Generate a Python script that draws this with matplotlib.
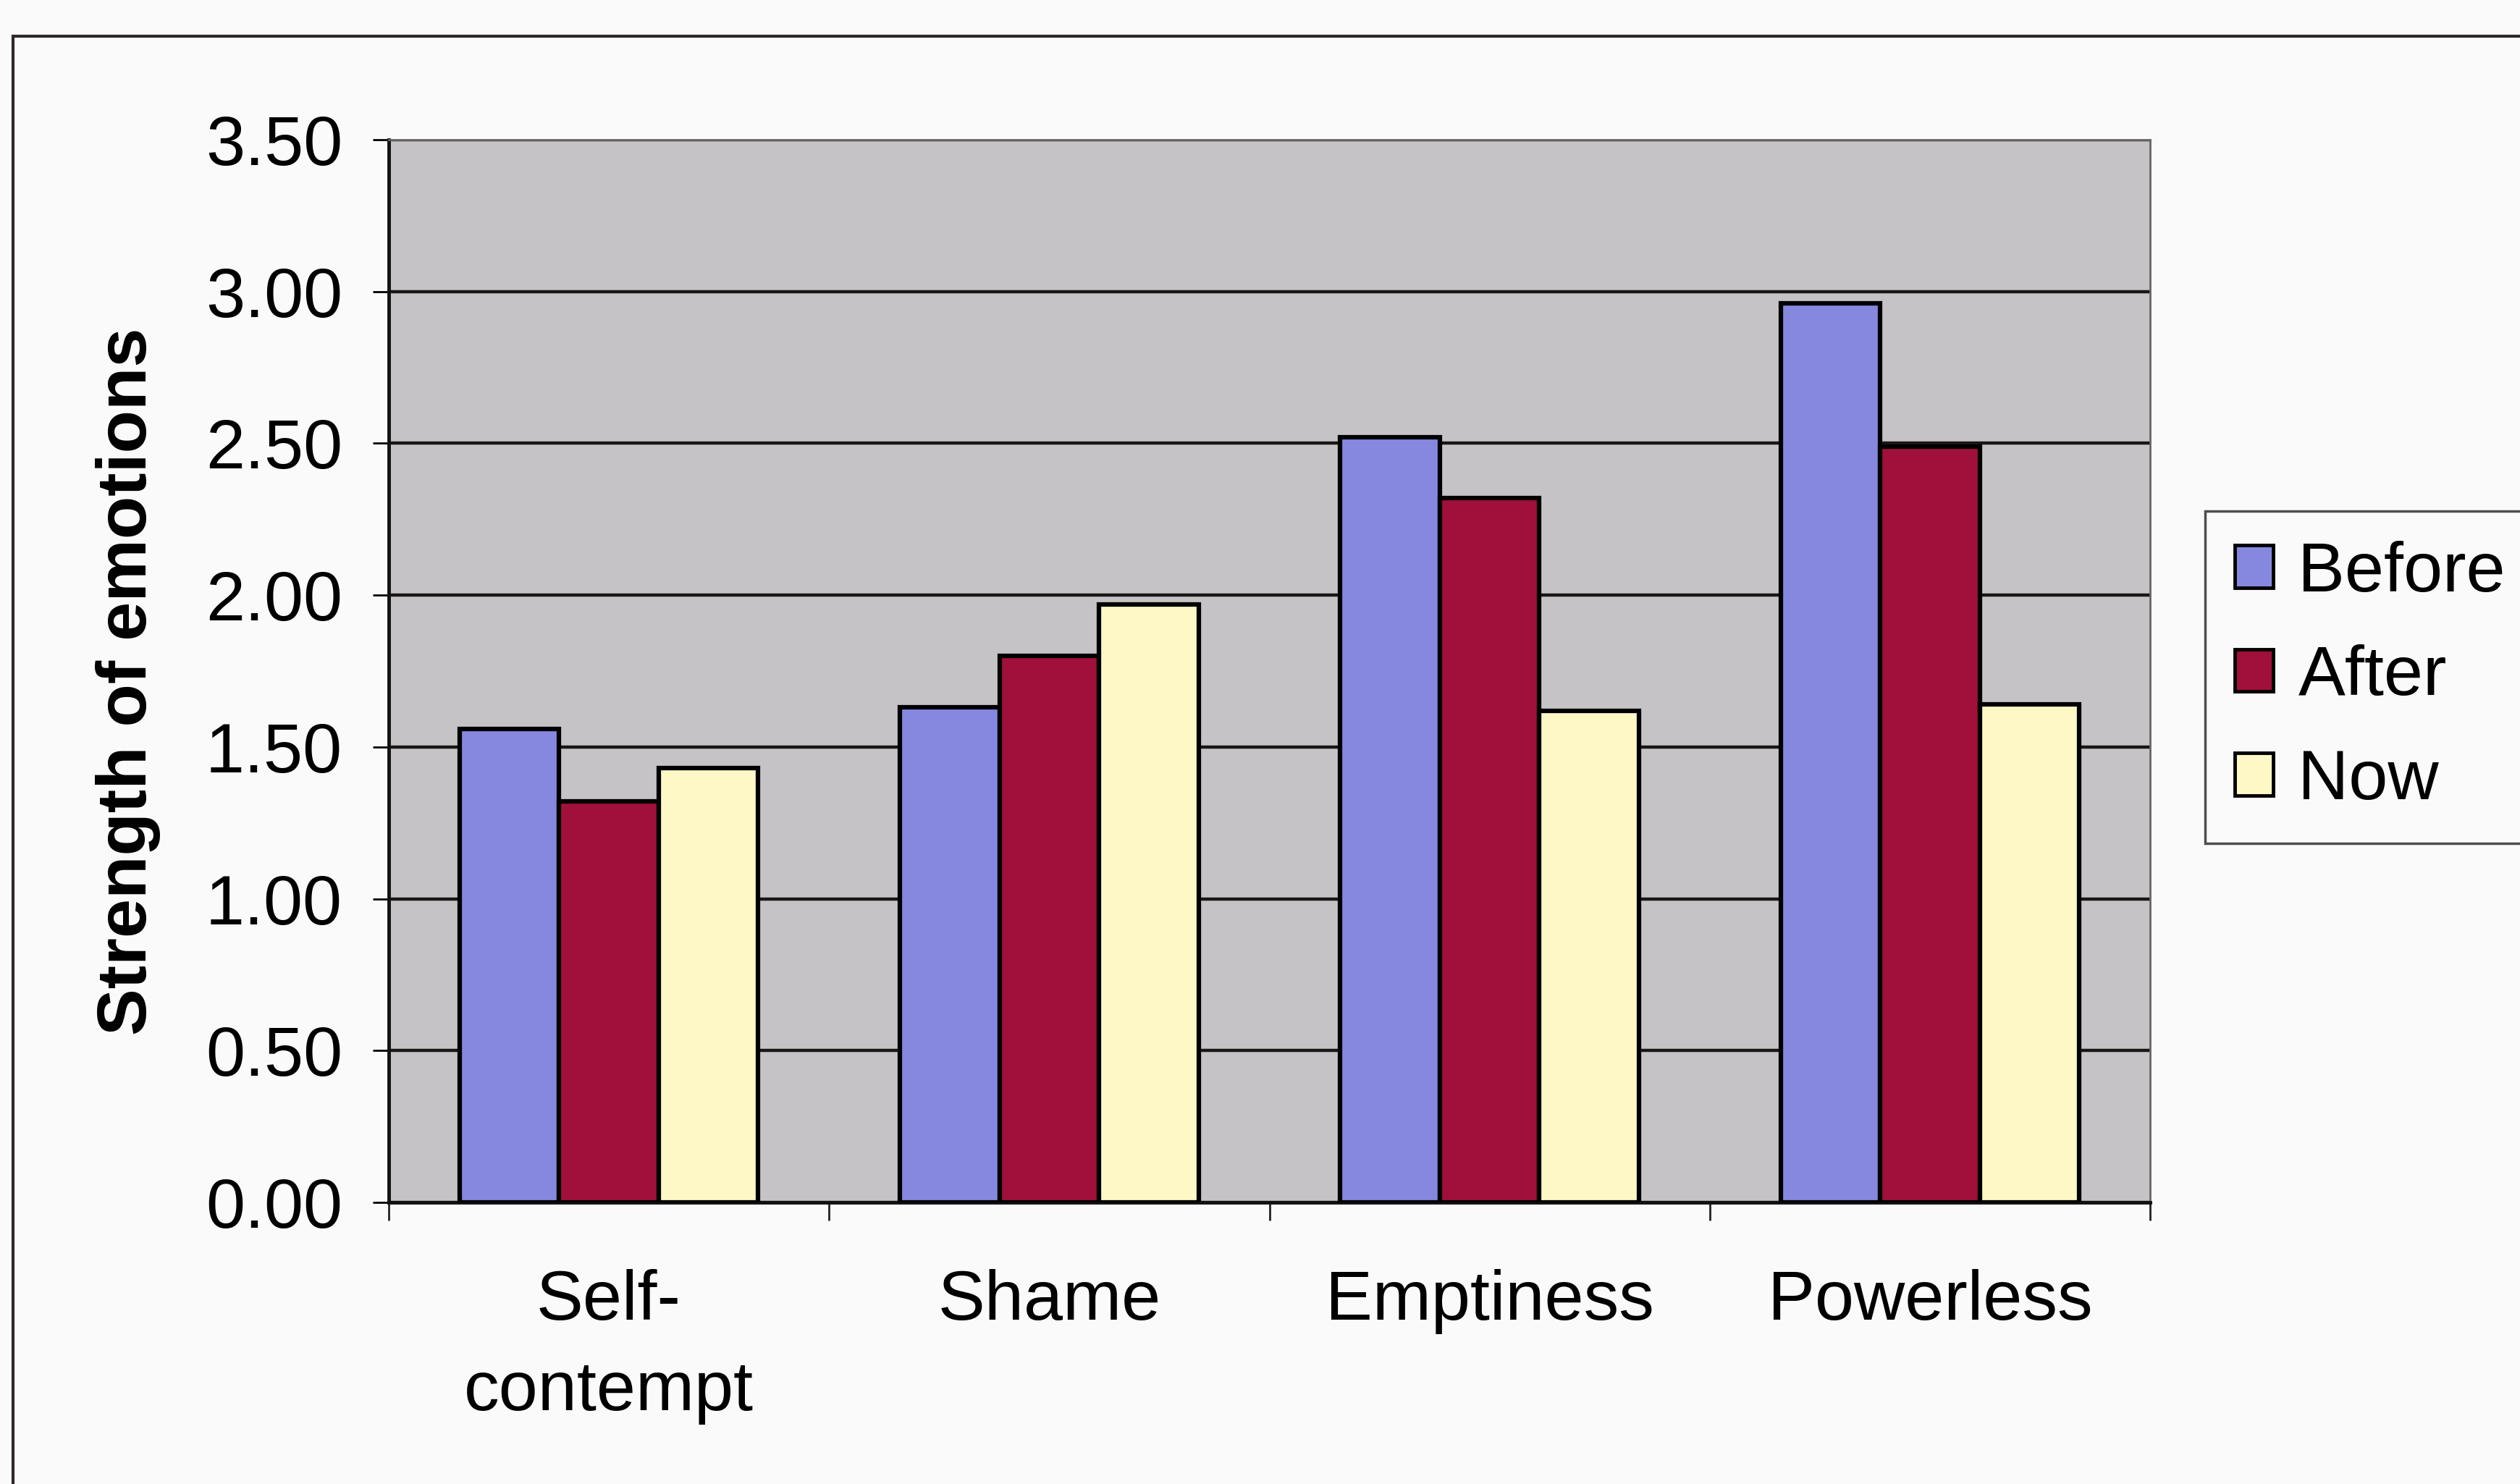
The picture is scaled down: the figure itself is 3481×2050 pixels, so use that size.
import numpy as np
import matplotlib
matplotlib.use("Agg")
import matplotlib.pyplot as plt
from matplotlib.patches import Rectangle
from matplotlib.ticker import FormatStrFormatter, FixedLocator

categories = ["Self-\ncontempt", "Shame", "Emptiness", "Powerless"]
series = ["Before", "After", "Now"]
before = [1.56, 1.63, 2.52, 2.96]
after = [1.32, 1.80, 2.32, 2.49]
now = [1.43, 1.97, 1.62, 1.64]
colors = ["#8687df", "#a0103a", "#fdf8c6"]

plt.rcParams["font.family"] = ["Liberation Sans", "DejaVu Sans"]
fs = 70

fig = plt.figure(figsize=(34.81, 20.5), dpi=100, facecolor="#fbfafb")

# outer chart-area border
fig.patches.append(Rectangle((18 / 3481, -0.1), 1.2, 1 - 50 / 2050 + 0.1,
                             transform=fig.transFigure, fill=False,
                             edgecolor="#302828", linewidth=3))

ax = fig.add_axes([537 / 3481, 1 - 1661 / 2050, 2433 / 3481, 1468 / 2050])
ax.set_facecolor("#c5c3c6")

x = np.arange(len(categories))
w = 0.226
for i, (vals, name) in enumerate(zip([before, after, now], series)):
    ax.bar(x + (i - 1) * w, vals, width=w, color=colors[i], edgecolor="black",
           linewidth=4.5, label=name, zorder=3)

ax.set_xlim(-0.5, 3.5)
ax.set_ylim(0, 3.5)
ax.set_yticks(np.arange(0, 3.51, 0.5))
ax.yaxis.set_major_formatter(FormatStrFormatter("%.2f"))
ax.grid(axis="y", color="#1a1616", linewidth=3.2, zorder=1)
ax.set_axisbelow(True)

ax.set_xticks(x)
ax.set_xticklabels(categories, linespacing=1.5)
ax.xaxis.set_minor_locator(FixedLocator(np.arange(-0.5, 3.6, 1.0)))
ax.tick_params(axis="x", which="major", length=0, pad=66, labelsize=fs)
ax.tick_params(axis="x", which="minor", length=18, width=2, color="#222")
ax.tick_params(axis="y", length=16, width=2, pad=30, labelsize=fs)

for s in ["left", "bottom"]:
    ax.spines[s].set_color("#111")
    ax.spines[s].set_linewidth(3.5)
for s in ["top", "right"]:
    ax.spines[s].set_color("#6a6668")
    ax.spines[s].set_linewidth(2)

ax.set_ylabel("Strength of emotions", fontsize=fs, fontweight="bold", va="center")
ax.yaxis.set_label_coords(-0.148, 0.49)

leg = fig.legend(loc="upper left", bbox_to_anchor=(3046 / 3481, 1 - 706 / 2050),
                 fontsize=fs, frameon=True, fancybox=False, edgecolor="#222",
                 handlelength=0.55, handleheight=0.55, handletextpad=0.35,
                 labelspacing=0.55, borderpad=0.42, borderaxespad=0)
leg.get_frame().set_linewidth(2.5)
leg.get_frame().set_facecolor("#fbfafb")
for h in leg.legend_handles:
    h.set_linewidth(3.5)

fig.savefig("out.png", dpi=100, facecolor=fig.get_facecolor())
